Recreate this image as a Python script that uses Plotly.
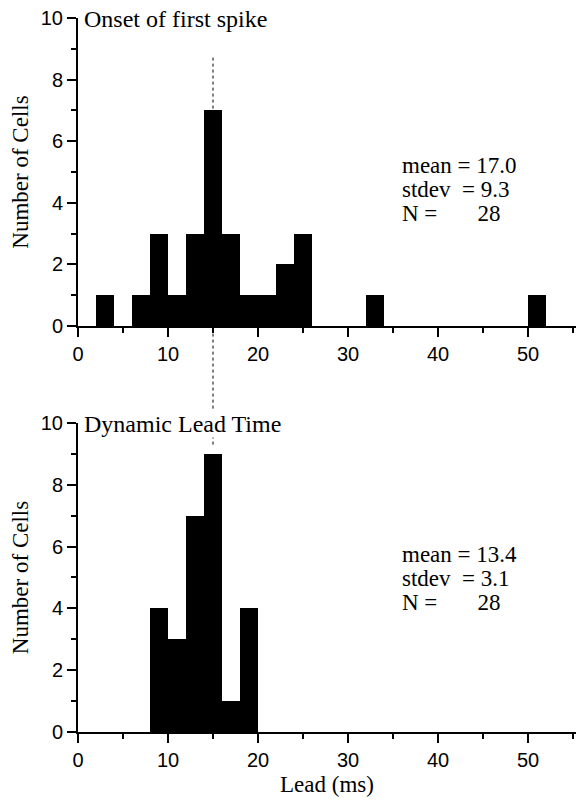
import plotly.graph_objects as go

# Histogram bins (2 ms wide), given by their left edges
onset_bin_left = [2, 6, 8, 10, 12, 14, 16, 18, 20, 22, 24, 32, 50]
onset_counts = [1, 1, 3, 1, 3, 7, 3, 1, 1, 2, 3, 1, 1]

dynamic_bin_left = [8, 10, 12, 14, 16, 18]
dynamic_counts = [4, 3, 7, 9, 1, 4]

BIN_WIDTH = 2

onset_stats = ["mean = 17.0", "stdev  = 9.3", "N =       28"]
dynamic_stats = ["mean = 13.4", "stdev  = 3.1", "N =       28"]

# dotted marker shared by both panels
marker_x = 15
marker_top_onset = 8.75
marker_top_dynamic = 9.3

y_ticks = [0, 2, 4, 6, 8, 10]
x_ticks = [0, 10, 20, 30, 40, 50]

SERIF = "Liberation Serif, Times New Roman, serif"
SANS = "Liberation Sans, Arial, Helvetica, sans-serif"

top_dom = [0.5686, 1.0]
bot_dom = [0.0, 0.4328]

fig = go.Figure()
fig.add_trace(go.Bar(
    x=[b + BIN_WIDTH / 2 for b in onset_bin_left], y=onset_counts,
    width=BIN_WIDTH, marker=dict(color="black", line=dict(width=0)),
    xaxis="x", yaxis="y", showlegend=False))
fig.add_trace(go.Bar(
    x=[b + BIN_WIDTH / 2 for b in dynamic_bin_left], y=dynamic_counts,
    width=BIN_WIDTH, marker=dict(color="black", line=dict(width=0)),
    xaxis="x2", yaxis="y2", showlegend=False))

xaxis_common = dict(
    range=[0, 55.33], tickvals=x_ticks, ticks="outside", ticklen=9, tickwidth=2,
    tickcolor="black", showline=True, linecolor="black", linewidth=2,
    showgrid=False, zeroline=False,
    minor=dict(dtick=5, tick0=0, ticks="outside", ticklen=5, tickwidth=1.5,
               tickcolor="black", showgrid=False),
    tickfont=dict(family=SANS, size=20, color="black"),
)
yaxis_common = dict(
    range=[0, 10], tickvals=y_ticks, ticks="outside",
    ticklen=9, tickwidth=2, tickcolor="black", showline=True,
    linecolor="black", linewidth=2, showgrid=False, zeroline=False,
    minor=dict(dtick=1, tick0=0, ticks="outside", ticklen=5, tickwidth=1.5,
               tickcolor="black", showgrid=False),
    tickfont=dict(family=SANS, size=20, color="black"),
    title=dict(text="Number of Cells", font=dict(family=SERIF, size=23, color="black"),
               standoff=6),
)

fig.update_layout(
    width=576, height=804,
    margin=dict(l=78, r=0, t=18, b=72),
    paper_bgcolor="white", plot_bgcolor="white",
    bargap=0,
    xaxis=dict(**xaxis_common, anchor="y"),
    yaxis=dict(**yaxis_common, domain=top_dom, anchor="x"),
    xaxis2=dict(**xaxis_common, anchor="y2",
                title=dict(text="Lead (ms)", font=dict(family=SERIF, size=23, color="black"),
                           standoff=6)),
    yaxis2=dict(**yaxis_common, domain=bot_dom, anchor="x2"),
)

# panel titles, pinned to the top of each panel
fig.add_annotation(text="Onset of first spike", xref="x", yref="y domain", x=0.6, y=1.0,
                   xanchor="left", yanchor="middle", yshift=-1, showarrow=False,
                   bgcolor="white", borderpad=0,
                   font=dict(family=SERIF, size=24, color="black"))
fig.add_annotation(text="Dynamic Lead Time", xref="x2", yref="y2 domain", x=0.6, y=1.0,
                   xanchor="left", yanchor="middle", yshift=-1, showarrow=False,
                   bgcolor="white", borderpad=0,
                   font=dict(family=SERIF, size=24, color="black"))

# summary statistics
for i, line in enumerate(onset_stats):
    fig.add_annotation(text=line, xref="x", yref="y", x=35.8, y=5.2 - i * 0.78,
                       xanchor="left", yanchor="middle", showarrow=False,
                       font=dict(family=SERIF, size=23, color="black"))
for i, line in enumerate(dynamic_stats):
    fig.add_annotation(text=line, xref="x2", yref="y2", x=35.8, y=5.73 - i * 0.77,
                       xanchor="left", yanchor="middle", showarrow=False,
                       font=dict(family=SERIF, size=23, color="black"))

# dotted reference line running through both panels
y_low = bot_dom[0] + (bot_dom[1] - bot_dom[0]) * marker_top_dynamic / 10
y_high = top_dom[0] + (top_dom[1] - top_dom[0]) * marker_top_onset / 10
fig.add_shape(type="line", xref="x", yref="paper", x0=marker_x, x1=marker_x,
              y0=y_low, y1=y_high, layer="below",
              line=dict(color="black", width=1, dash="dot"))

fig.write_html("out.html")
